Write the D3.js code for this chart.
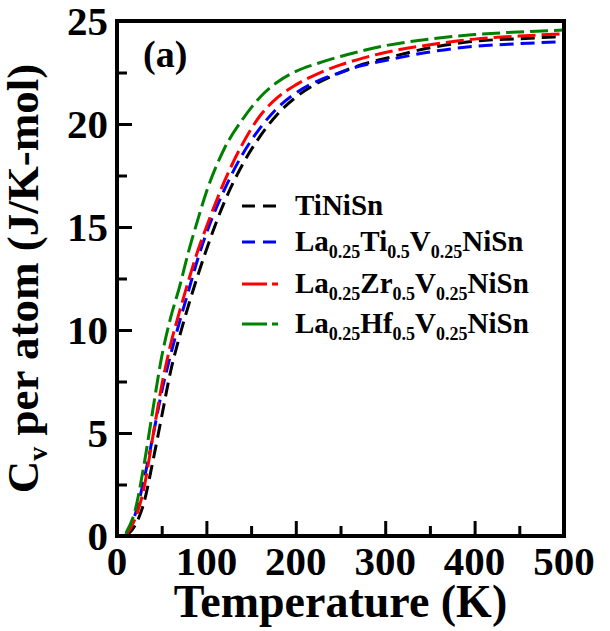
<!DOCTYPE html>
<html>
<head>
<meta charset="utf-8">
<script src="https://cdn.jsdelivr.net/npm/d3@7"></script>
<style>
  html, body { margin: 0; padding: 0; background: #fff; }
</style>
</head>
<body>
<svg id="chart" width="610" height="631"></svg>
<script>
// ---- data ----
const temperatures = [10,20,30,40,50,60,70,80,90,100,120,140,160,180,200,225,250,275,300,350,400,450,500];
const cvTiNiSn   = [0.0,0.5,1.6,3.6,5.8,8.0,9.7,11.2,12.6,13.9,16.2,18.0,19.4,20.5,21.3,22.0,22.5,22.9,23.18,23.7,24.02,24.14,24.25];
const cvLaTiV    = [0.05,1.0,2.7,4.8,7.0,8.8,10.4,11.9,13.4,14.7,16.8,18.5,19.8,20.8,21.5,22.1,22.5,22.85,23.08,23.5,23.77,23.9,24.0];
const cvLaZrV    = [0.05,0.8,2.3,4.8,7.3,9.3,10.9,12.4,13.8,15.0,17.2,19.0,20.4,21.3,21.9,22.45,22.87,23.2,23.47,23.85,24.12,24.27,24.38];
const cvLaHfV    = [0.15,1.2,3.4,6.1,8.7,10.6,12.1,13.8,15.3,16.7,18.8,20.2,21.3,22.05,22.55,22.95,23.28,23.56,23.8,24.12,24.34,24.47,24.56];
const seriesNames = ["TiNiSn","La0.25Ti0.5V0.25NiSn","La0.25Zr0.5V0.25NiSn","La0.25Hf0.5V0.25NiSn"];
// legend label parts: [text, isSubscript]
const legendParts = [
  [["TiNiSn",0]],
  [["La",0],["0.25",1],["Ti",0],["0.5",1],["V",0],["0.25",1],["NiSn",0]],
  [["La",0],["0.25",1],["Zr",0],["0.5",1],["V",0],["0.25",1],["NiSn",0]],
  [["La",0],["0.25",1],["Hf",0],["0.5",1],["V",0],["0.25",1],["NiSn",0]]
];
const seriesColors = ["#000000","#0000ff","#ff0000","#008000"];
const xMajorTicks = [0,100,200,300,400,500];
const xMinorTicks = [50,150,250,350,450];
const yMajorTicks = [0,5,10,15,20,25];
const yMinorTicks = [2.5,7.5,12.5,17.5,22.5];

const values = [cvTiNiSn, cvLaTiV, cvLaZrV, cvLaHfV];

// ---- layout ----
const svg = d3.select("#chart");
const L = 117, R = 564, T = 21, B = 536;
const x = d3.scaleLinear().domain([0,500]).range([L,R]);
const y = d3.scaleLinear().domain([0,25]).range([B,T]);

function txt(parent, size){
  return parent.append("text")
    .attr("font-family","Liberation Serif")
    .attr("font-weight","bold")
    .attr("font-size", size)
    .attr("fill","#000");
}

svg.append("clipPath").attr("id","clip")
  .append("rect").attr("x",L).attr("y",T).attr("width",R-L).attr("height",B-T);

const line = d3.line()
  .x((d,i)=>x(temperatures[i]))
  .y(d=>y(d))
  .curve(d3.curveMonotoneX);

const curveDash = ["14,7","14,7","18,6","18,6"];
const g = svg.append("g").attr("clip-path","url(#clip)");
values.forEach((vals,k)=>{
  g.append("path")
    .datum(vals)
    .attr("d", line)
    .attr("fill","none")
    .attr("stroke", seriesColors[k])
    .attr("stroke-width",3)
    .attr("stroke-dasharray", curveDash[k]);
});

// tick marks via d3 axes (labels drawn separately as plain text)
const xAxis = d3.axisBottom(x).tickValues(xMajorTicks).tickSize(-15).tickFormat("");
const xAxisMinor = d3.axisBottom(x).tickValues(xMinorTicks).tickSize(-10).tickFormat("");
const yAxis = d3.axisLeft(y).tickValues(yMajorTicks).tickSize(-15).tickFormat("");
const yAxisMinor = d3.axisLeft(y).tickValues(yMinorTicks).tickSize(-10).tickFormat("");
function styleAxis(sel){
  sel.select(".domain").remove();
  sel.selectAll(".tick line").attr("stroke","#000").attr("stroke-width",3);
  sel.selectAll(".tick text").remove();
}
svg.append("g").attr("transform",`translate(0,${B})`).call(xAxis).call(styleAxis);
svg.append("g").attr("transform",`translate(0,${B})`).call(xAxisMinor).call(styleAxis);
svg.append("g").attr("transform",`translate(${L},0)`).call(yAxis).call(styleAxis);
svg.append("g").attr("transform",`translate(${L},0)`).call(yAxisMinor).call(styleAxis);

// tick labels
xMajorTicks.forEach(v=>{
  txt(svg, 41).attr("x", x(v)).attr("y", 575).attr("text-anchor","middle").text(v);
});
yMajorTicks.forEach(v=>{
  txt(svg, 41).attr("x", L-9).attr("y", y(v)+14).attr("text-anchor","end").text(v);
});

svg.append("rect").attr("x",L).attr("y",T).attr("width",R-L).attr("height",B-T)
  .attr("fill","none").attr("stroke","#000").attr("stroke-width",4);

txt(svg, 46).attr("x",(L+R)/2).attr("y",617).attr("text-anchor","middle").text("Temperature (K)");

const yt = txt(svg, 45).attr("transform",`translate(38,${(T+B)/2}) rotate(-90)`)
  .attr("text-anchor","middle");
yt.append("tspan").text("C");
yt.append("tspan").attr("dy",9).attr("font-size",28).text("v");
yt.append("tspan").attr("dy",-9).text(" per atom (J/K-mol)");

txt(svg, 38).attr("x",143).attr("y",67).text("(a)");

const legendY = [206, 242, 284, 324];
const legendDash = ["13,8","13,8","25,5,6,100","25,5,6,100"];
legendParts.forEach((parts,k)=>{
  const ly = legendY[k];
  svg.append("line").attr("x1",242).attr("x2",278).attr("y1",ly).attr("y2",ly)
    .attr("stroke",seriesColors[k]).attr("stroke-width",3)
    .attr("stroke-dasharray",legendDash[k]);
  const t = txt(svg, 29).attr("x",295).attr("y",ly+9).attr("aria-label", seriesNames[k]);
  let sub = false;
  parts.forEach(([s,isSub])=>{
    const ts = t.append("tspan").text(s);
    if (isSub && !sub){ ts.attr("dy",7).attr("font-size",18); sub = true; }
    else if (isSub){ ts.attr("font-size",18); }
    else if (!isSub && sub){ ts.attr("dy",-7); sub = false; }
  });
});
</script>
</body>
</html>
